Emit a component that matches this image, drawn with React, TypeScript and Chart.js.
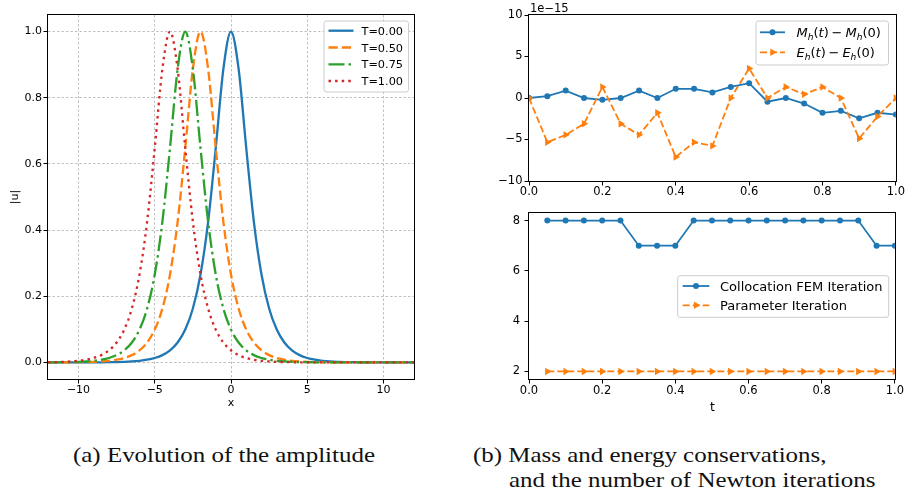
import React, { useEffect, useRef } from 'react';
import { Chart, registerables } from 'chart.js';

Chart.register(...registerables);

// ---------------- data ----------------
// (a) amplitude |u| on an x grid
const xGrid = [-12, -11.5, -11, -10.5, -10, -9.5, -9, -8.5, -8, -7.5, -7, -6.5, -6, -5.5, -5, -4.5, -4, -3.5, -3, -2.5, -2, -1.5, -1, -0.5, 0, 0.5, 1, 1.5, 2, 2.5, 3, 3.5, 4, 4.5, 5, 5.5, 6, 6.5, 7, 7.5, 8, 8.5, 9, 9.5, 10, 10.5, 11, 11.5, 12];
const ampT000 = [0, 0, 0, 0, 0.0001, 0.0001, 0.0002, 0.0004, 0.0007, 0.0011, 0.0018, 0.003, 0.005, 0.0082, 0.0135, 0.0222, 0.0366, 0.0603, 0.0993, 0.1631, 0.2658, 0.4251, 0.6481, 0.8868, 1.0, 0.8868, 0.6481, 0.4251, 0.2658, 0.1631, 0.0993, 0.0603, 0.0366, 0.0222, 0.0135, 0.0082, 0.005, 0.003, 0.0018, 0.0011, 0.0007, 0.0004, 0.0002, 0.0001, 0.0001, 0, 0, 0, 0];
const ampT050 = [0.0001, 0.0001, 0.0002, 0.0004, 0.0007, 0.0011, 0.0018, 0.003, 0.005, 0.0082, 0.0135, 0.0222, 0.0366, 0.0603, 0.0993, 0.1631, 0.2658, 0.4251, 0.6481, 0.8868, 1.0, 0.8868, 0.6481, 0.4251, 0.2658, 0.1631, 0.0993, 0.0603, 0.0366, 0.0222, 0.0135, 0.0082, 0.005, 0.003, 0.0018, 0.0011, 0.0007, 0.0004, 0.0002, 0.0001, 0.0001, 0, 0, 0, 0, 0, 0, 0, 0];
const ampT075 = [0.0002, 0.0004, 0.0007, 0.0011, 0.0018, 0.003, 0.005, 0.0082, 0.0135, 0.0222, 0.0366, 0.0603, 0.0993, 0.1631, 0.2658, 0.4251, 0.6481, 0.8868, 1.0, 0.8868, 0.6481, 0.4251, 0.2658, 0.1631, 0.0993, 0.0603, 0.0366, 0.0222, 0.0135, 0.0082, 0.005, 0.003, 0.0018, 0.0011, 0.0007, 0.0004, 0.0002, 0.0001, 0.0001, 0, 0, 0, 0, 0, 0, 0, 0, 0, 0];
const ampT100 = [0.0007, 0.0011, 0.0018, 0.003, 0.005, 0.0082, 0.0135, 0.0222, 0.0366, 0.0603, 0.0993, 0.1631, 0.2658, 0.4251, 0.6481, 0.8868, 1.0, 0.8868, 0.6481, 0.4251, 0.2658, 0.1631, 0.0993, 0.0603, 0.0366, 0.0222, 0.0135, 0.0082, 0.005, 0.003, 0.0018, 0.0011, 0.0007, 0.0004, 0.0002, 0.0001, 0.0001, 0, 0, 0, 0, 0, 0, 0, 0, 0, 0, 0, 0];
const ampLabels = ['T=0.00', 'T=0.50', 'T=0.75', 'T=1.00'];
const ampXTicks = [-10, -5, 0, 5, 10];
const ampYTicks = [0, 0.2, 0.4, 0.6, 0.8, 1.0];

// (b) top: conservation errors, in units of 1e-15
const tCons = [0, 0.05, 0.1, 0.15, 0.2, 0.25, 0.3, 0.35, 0.4, 0.45, 0.5, 0.55, 0.6, 0.65, 0.7, 0.75, 0.8, 0.85, 0.9, 0.95, 1.0];
const massDiff = [0, 0.22, 0.89, 0, -0.22, 0, 0.89, 0, 1.11, 1.11, 0.67, 1.33, 1.78, -0.44, 0, -0.67, -1.78, -1.55, -2.44, -1.78, -2.0];
const energyDiff = [0, -5.33, -4.44, -3.11, 1.33, -3.11, -4.44, -1.78, -7.11, -5.33, -5.77, 0, 3.55, 0, 1.33, 0.44, 1.33, 0, -4.88, -2.22, 0];
const consYTicks = [-10, -5, 0, 5, 10];

// (b) bottom: Newton iterations
const tIter = [0.05, 0.1, 0.15, 0.2, 0.25, 0.3, 0.35, 0.4, 0.45, 0.5, 0.55, 0.6, 0.65, 0.7, 0.75, 0.8, 0.85, 0.9, 0.95, 1.0];
const femIter = [8, 8, 8, 8, 8, 7, 7, 7, 8, 8, 8, 8, 8, 8, 8, 8, 8, 8, 7, 7];
const paramIter = [2, 2, 2, 2, 2, 2, 2, 2, 2, 2, 2, 2, 2, 2, 2, 2, 2, 2, 2, 2];
const iterYTicks = [2, 4, 6, 8];
const tTicks = [0, 0.2, 0.4, 0.6, 0.8, 1.0];

// ---------------- styles ----------------
const BLUE = '#1f77b4';
const ORANGE = '#ff7f0e';
const GREEN = '#2ca02c';
const RED = '#d62728';
const SANS = "'DejaVu Sans', sans-serif";

const fmtInt = (v: number) => (v < 0 ? '\u2212' + Math.abs(v) : String(v));
const fmt1 = (v: number) => (v < 0 ? '\u2212' : '') + Math.abs(v).toFixed(1);

type Seg = { t: string; it?: boolean; sub?: boolean; dx?: number };
type LegendRow = { ds: number; segs: Seg[]; cy: number };
type LegendCfg = { x: number; y: number; w: number; h: number; hx0: number; hx1: number; tx: number; size: number; rows: LegendRow[] };
type TextCfg = { text: string; x: number; y: number; size: number; rot?: number; align?: CanvasTextAlign; base?: CanvasTextBaseline };

function drawMarker(ctx: CanvasRenderingContext2D, style: string, x: number, y: number, r: number, color: string) {
  ctx.save();
  ctx.setLineDash([]);
  ctx.fillStyle = color;
  ctx.beginPath();
  if (style === 'circle') {
    ctx.arc(x, y, r, 0, Math.PI * 2);
  } else {
    ctx.moveTo(x + r, y);
    ctx.lineTo(x - r * 0.5, y - r * 0.866);
    ctx.lineTo(x - r * 0.5, y + r * 0.866);
    ctx.closePath();
  }
  ctx.fill();
  ctx.restore();
}

function makeMplPlugin(legend: LegendCfg, texts: TextCfg[]) {
  return {
    id: 'mplDecor',
    afterDraw(chart: any) {
      const ctx: CanvasRenderingContext2D = chart.ctx;
      const a = chart.chartArea;
      // frame
      ctx.save();
      ctx.setLineDash([]);
      ctx.strokeStyle = '#000';
      ctx.lineWidth = 1;
      ctx.strokeRect(Math.round(a.left) - 0.5, Math.round(a.top) - 0.5, Math.round(a.right - a.left) + 1, Math.round(a.bottom - a.top) + 1);
      ctx.restore();

      // legend box
      ctx.save();
      const { x, y, w, h } = legend;
      const r = 2.5;
      ctx.beginPath();
      ctx.moveTo(x + r, y);
      ctx.lineTo(x + w - r, y);
      ctx.arcTo(x + w, y, x + w, y + r, r);
      ctx.lineTo(x + w, y + h - r);
      ctx.arcTo(x + w, y + h, x + w - r, y + h, r);
      ctx.lineTo(x + r, y + h);
      ctx.arcTo(x, y + h, x, y + h - r, r);
      ctx.lineTo(x, y + r);
      ctx.arcTo(x, y, x + r, y, r);
      ctx.closePath();
      ctx.fillStyle = 'rgba(255,255,255,0.8)';
      ctx.fill();
      ctx.strokeStyle = '#cccccc';
      ctx.lineWidth = 1;
      ctx.stroke();

      for (const row of legend.rows) {
        const ds = chart.data.datasets[row.ds];
        ctx.save();
        ctx.strokeStyle = ds.borderColor;
        ctx.lineWidth = ds.borderWidth;
        ctx.lineCap = 'butt';
        ctx.setLineDash(ds.borderDash || []);
        ctx.beginPath();
        ctx.moveTo(legend.hx0, row.cy);
        ctx.lineTo(legend.hx1, row.cy);
        ctx.stroke();
        ctx.restore();
        if (ds.pointRadius > 0) {
          drawMarker(ctx, ds.pointStyle, (legend.hx0 + legend.hx1) / 2, row.cy, ds.pointRadius, ds.borderColor);
        }
        let cx = legend.tx;
        const base = row.cy + legend.size * 0.36;
        ctx.fillStyle = '#000';
        ctx.textAlign = 'left';
        ctx.textBaseline = 'alphabetic';
        for (const s of row.segs) {
          cx += s.dx || 0;
          const fs = s.sub ? legend.size * 0.7 : legend.size;
          ctx.font = `${s.it ? 'italic ' : ''}${fs}px ${SANS}`;
          ctx.fillText(s.t, cx, base + (s.sub ? legend.size * 0.22 : 0));
          cx += ctx.measureText(s.t).width;
        }
      }
      ctx.restore();

      // free texts (axis labels, offset text)
      for (const t of texts) {
        ctx.save();
        ctx.fillStyle = '#000';
        ctx.font = `${t.size}px ${SANS}`;
        ctx.textAlign = t.align || 'center';
        ctx.textBaseline = t.base || 'middle';
        ctx.translate(t.x, t.y);
        if (t.rot) ctx.rotate(t.rot);
        ctx.fillText(t.text, 0, 0);
        ctx.restore();
      }
    },
  };
}

function axis(opts: {
  min: number; max: number; ticks: number[]; fmt: (v: number) => string; size: number;
  pad: number; fit: (s: any) => void; grid?: boolean;
}) {
  return {
    type: 'linear',
    min: opts.min,
    max: opts.max,
    afterBuildTicks: (s: any) => {
      s.ticks = opts.ticks.map((v) => ({ value: v }));
    },
    afterFit: opts.fit,
    ticks: {
      callback: (v: any) => opts.fmt(Number(v)),
      font: { family: SANS, size: opts.size },
      color: '#000',
      padding: opts.pad,
      maxRotation: 0,
      autoSkip: false,
    },
    grid: {
      display: true,
      drawOnChartArea: !!opts.grid,
      color: '#b0b0b0',
      lineWidth: 0.8,
      drawTicks: true,
      tickLength: 4.5,
      tickWidth: 1,
      tickColor: '#000',
    },
    border: { display: false, dash: [2.5, 2] },
  };
}

const baseOptions = {
  responsive: false,
  maintainAspectRatio: false,
  animation: false,
  devicePixelRatio: 1,
  events: [],
};

function ampConfig(): any {
  const series = [ampT000, ampT050, ampT075, ampT100];
  const colors = [BLUE, ORANGE, GREEN, RED];
  const dashes = [[], [9.25, 4], [16, 4, 2.5, 4], [2.5, 4.1]];
  return {
    type: 'line',
    data: {
      datasets: series.map((ys, i) => ({
        label: ampLabels[i],
        data: xGrid.map((x, j) => ({ x, y: ys[j] })),
        borderColor: colors[i],
        borderWidth: 2.3,
        borderDash: dashes[i],
        borderCapStyle: 'butt',
        pointRadius: 0,
        cubicInterpolationMode: 'monotone',
        fill: false,
        clip: 0,
        order: 3 - i,
      })),
    },
    options: {
      ...baseOptions,
      layout: { padding: { left: 0, top: 15, right: 16, bottom: 0 } },
      plugins: { legend: { display: false }, tooltip: { enabled: false } },
      scales: {
        x: axis({ min: -12, max: 12, ticks: ampXTicks, fmt: fmtInt, size: 11, pad: 0, grid: true, fit: (s) => { s.height = 41; } }),
        y: axis({ min: -0.05, max: 1.05, ticks: ampYTicks, fmt: fmt1, size: 11, pad: 1.5, grid: true, fit: (s) => { s.width = 48; } }),
      },
    },
    plugins: [
      makeMplPlugin(
        {
          x: 324, y: 21, w: 84.5, h: 71, hx0: 328.5, hx1: 353.5, tx: 361.5, size: 11.3,
          rows: ampLabels.map((lab, i) => ({ ds: i, segs: [{ t: lab }], cy: [30.7, 47.5, 64.3, 81][i] })),
        },
        [
          { text: '|u|', x: 15, y: 197, size: 11, rot: -Math.PI / 2 },
          { text: 'x', x: 231, y: 403, size: 11 },
        ],
      ),
    ],
  };
}

function consConfig(): any {
  return {
    type: 'line',
    data: {
      datasets: [
        {
          label: 'mass',
          data: tCons.map((x, j) => ({ x, y: massDiff[j] })),
          borderColor: BLUE,
          backgroundColor: BLUE,
          borderWidth: 1.8,
          pointStyle: 'circle',
          pointRadius: 3,
          pointBorderWidth: 0,
          pointBackgroundColor: BLUE,
          tension: 0,
          fill: false,
          clip: 0,
          order: 1,
        },
        {
          label: 'energy',
          data: tCons.map((x, j) => ({ x, y: energyDiff[j] })),
          borderColor: ORANGE,
          backgroundColor: ORANGE,
          borderWidth: 1.8,
          borderDash: [7, 3],
          pointStyle: 'triangle',
          pointRotation: 90,
          pointRadius: 4.3,
          pointBorderWidth: 0,
          pointBackgroundColor: ORANGE,
          tension: 0,
          fill: false,
          clip: 0,
          order: 0,
        },
      ],
    },
    options: {
      ...baseOptions,
      layout: { padding: { left: 0, top: 15, right: 9, bottom: 0 } },
      plugins: { legend: { display: false }, tooltip: { enabled: false } },
      scales: {
        x: axis({ min: 0, max: 1, ticks: tTicks, fmt: fmt1, size: 11.5, pad: 0, fit: (s) => { s.height = 19; } }),
        y: axis({ min: -10, max: 10, ticks: consYTicks, fmt: fmtInt, size: 11.5, pad: 2, fit: (s) => { s.width = 69; } }),
      },
    },
    plugins: [
      makeMplPlugin(
        {
          x: 296, y: 21, w: 132.5, h: 44, hx0: 300, hx1: 325, tx: 336.5, size: 13,
          rows: [
            {
              ds: 0, cy: 32.3,
              segs: [{ t: 'M', it: true }, { t: 'h', it: true, sub: true }, { t: '(' }, { t: 't', it: true }, { t: ')' }, { t: '\u2212', dx: 2.9 }, { t: 'M', it: true, dx: 2.9 }, { t: 'h', it: true, sub: true }, { t: '(0)' }],
            },
            {
              ds: 1, cy: 52.3,
              segs: [{ t: 'E', it: true }, { t: 'h', it: true, sub: true }, { t: '(' }, { t: 't', it: true }, { t: ')' }, { t: '\u2212', dx: 2.9 }, { t: 'E', it: true, dx: 2.9 }, { t: 'h', it: true, sub: true }, { t: '(0)' }],
            },
          ],
        },
        [{ text: '1e\u221215', x: 70, y: 12, size: 11.5, align: 'left', base: 'alphabetic' }],
      ),
    ],
  };
}

function iterConfig(): any {
  return {
    type: 'line',
    data: {
      datasets: [
        {
          label: 'Collocation FEM Iteration',
          data: tIter.map((x, j) => ({ x, y: femIter[j] })),
          borderColor: BLUE,
          backgroundColor: BLUE,
          borderWidth: 1.8,
          pointStyle: 'circle',
          pointRadius: 3,
          pointBorderWidth: 0,
          pointBackgroundColor: BLUE,
          tension: 0,
          fill: false,
          clip: 0,
          order: 1,
        },
        {
          label: 'Parameter Iteration',
          data: tIter.map((x, j) => ({ x, y: paramIter[j] })),
          borderColor: ORANGE,
          backgroundColor: ORANGE,
          borderWidth: 1.8,
          borderDash: [7, 3],
          pointStyle: 'triangle',
          pointRotation: 90,
          pointRadius: 4.3,
          pointBorderWidth: 0,
          pointBackgroundColor: ORANGE,
          tension: 0,
          fill: false,
          clip: 0,
          order: 0,
        },
      ],
    },
    options: {
      ...baseOptions,
      layout: { padding: { left: 0, top: 13, right: 9, bottom: 0 } },
      plugins: { legend: { display: false }, tooltip: { enabled: false } },
      scales: {
        x: axis({ min: 0, max: 1, ticks: tTicks, fmt: fmt1, size: 11.5, pad: 1, fit: (s) => { s.height = 41; } }),
        y: axis({ min: 1.7, max: 8.3, ticks: iterYTicks, fmt: fmtInt, size: 11.5, pad: 4.5, fit: (s) => { s.width = 69; } }),
      },
    },
    plugins: [
      makeMplPlugin(
        {
          x: 217.7, y: 75.7, w: 211, h: 41.6, hx0: 222.7, hx1: 249.3, tx: 260, size: 13,
          rows: [
            { ds: 0, cy: 86, segs: [{ t: 'Collocation FEM Iteration' }] },
            { ds: 1, cy: 105.3, segs: [{ t: 'Parameter Iteration' }] },
          ],
        },
        [{ text: 't', x: 252.5, y: 208, size: 12.5 }],
      ),
    ],
  };
}

const captionStyle: React.CSSProperties = {
  position: 'absolute',
  fontFamily: "'Liberation Serif', serif",
  fontSize: 21.5,
  lineHeight: '21.5px',
  whiteSpace: 'nowrap',
  color: '#111',
  transform: 'scaleX(1.16)',
  transformOrigin: 'left top',
  margin: 0,
};

export default function App() {
  const aRef = useRef<HTMLCanvasElement>(null);
  const bRef = useRef<HTMLCanvasElement>(null);
  const cRef = useRef<HTMLCanvasElement>(null);

  useEffect(() => {
    const charts = [
      new Chart(aRef.current as HTMLCanvasElement, ampConfig()),
      new Chart(bRef.current as HTMLCanvasElement, consConfig()),
      new Chart(cRef.current as HTMLCanvasElement, iterConfig()),
    ];
    return () => charts.forEach((c) => c.destroy());
  }, []);

  return (
    <div style={{ position: 'absolute', left: 0, top: 0, width: 905, height: 496, background: '#fff', overflow: 'hidden' }}>
      <canvas ref={aRef} width={430} height={420} style={{ position: 'absolute', left: 0, top: 0, width: 430, height: 420 }} />
      <canvas ref={bRef} width={445} height={200} style={{ position: 'absolute', left: 460, top: 0, width: 445, height: 200 }} />
      <canvas ref={cRef} width={445} height={220} style={{ position: 'absolute', left: 460, top: 200, width: 445, height: 220 }} />
      <div style={{ ...captionStyle, left: 73, top: 444.5 }}>(a) Evolution of the amplitude</div>
      <div style={{ ...captionStyle, left: 473, top: 444.5 }}>(b) Mass and energy conservations,</div>
      <div style={{ ...captionStyle, left: 509.3, top: 470.3 }}>and the number of Newton iterations</div>
    </div>
  );
}
